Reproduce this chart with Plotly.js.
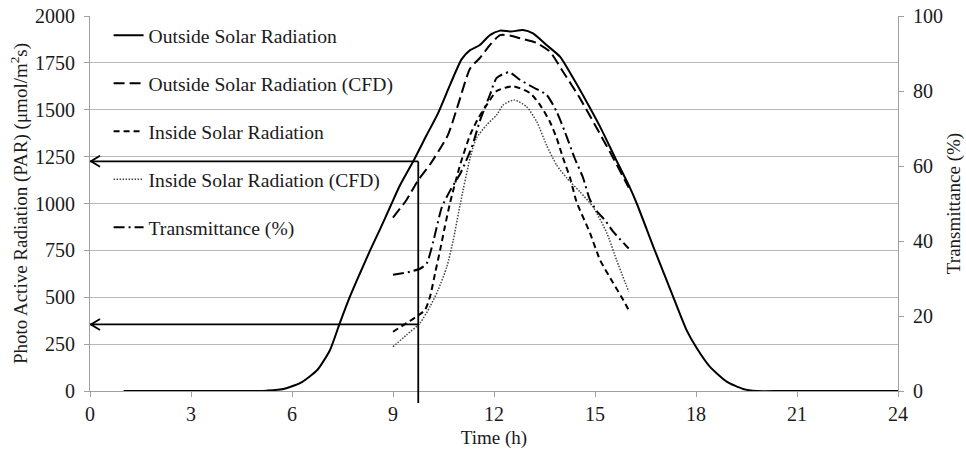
<!DOCTYPE html>
<html>
<head>
<meta charset="utf-8">
<script src="https://cdn.plot.ly/plotly-3.0.1.min.js"></script>
<style>html,body{margin:0;padding:0;background:#fff;}</style>
</head>
<body>
<div id="chart" style="width:966px;height:450px;"></div>
<script>
// Outside Solar Radiation (measured), time (h) and PAR
const outsideTime = [1,2,3,4,5,5.25,5.75,6.25,6.75,7.13,7.42,7.72,8.0,8.32,8.62,8.91,9.2,9.63,10.0,10.34,10.7,11.04,11.29,11.58,11.88,12.18,12.5,12.86,13.16,13.56,13.96,14.35,14.75,15.15,15.6,16.04,16.24,16.78,17.32,17.72,18.02,18.41,18.91,19.4,19.8,20.5,21,22,23,24];
const outsidePAR  = [0,0,0,0,0,2,11,43,112,219,362,503,620,750,865,980,1095,1235,1365,1482,1635,1770,1818,1845,1898,1922,1917,1925,1907,1845,1783,1669,1543,1410,1243,1083,1000,748,503,325,229,130,50,11,0,0,0,0,0,0];

// Outside Solar Radiation (CFD)
const outsideCfdTime = [9,9.4,9.75,10.1,10.63,10.93,11.29,11.58,11.9,12.18,12.5,12.77,13.27,13.66,14.05,14.55,15.05,15.54,16];
const outsideCfdPAR  = [925,1019,1125,1208,1365,1525,1720,1776,1850,1898,1895,1881,1856,1810,1703,1562,1403,1243,1085];

// Inside Solar Radiation
const insideTime = [9,9.4,9.7,9.95,10.1,10.25,10.4,10.54,10.69,11.0,11.3,11.55,11.8,12.08,12.57,13.07,13.37,13.66,13.86,14.05,14.26,14.45,14.85,15.15,15.54,15.84,16];
const insidePAR  = [316,362,397,432,503,628,752,876,1000,1210,1370,1460,1530,1600,1625,1589,1525,1436,1349,1243,1136,1010,843,699,576,485,432];

// Inside Solar Radiation (CFD)
const insideCfdTime = [9,9.4,9.8,10.1,10.34,10.6,10.79,11.0,11.29,11.48,11.78,12.08,12.27,12.6,12.97,13.27,13.56,13.86,14.16,14.55,14.95,15.35,15.64,16];
const insideCfdPAR  = [236,299,362,450,539,663,805,1000,1243,1349,1419,1472,1525,1552,1516,1436,1312,1205,1136,1063,980,843,699,530];

// Transmittance (%)
const transTime = [9,9.5,9.8,10.0,10.2,10.45,10.7,11.0,11.34,11.58,11.88,12.08,12.45,12.77,13.16,13.56,13.86,14.11,14.4,14.64,14.85,15.05,15.3,15.54,16];
const transPct  = [31,31.8,32.6,34,40,49,53.5,58,65,72,79,83.5,85,83,81,79,74.5,69,62,57,51,48,45.5,42.5,38];

// Guide arrows (annotation marks)
const guideTime = 9.75;
const guideLevels = [1225, 355];
const guideStub = -0.032;   // paper fraction below the x axis

const xRange = [0, 24];
const yRange = [0, 2000];
const y2Range = [0, 100];
const xTicks = [0,3,6,9,12,15,18,21,24];
const yTicks = [0,250,500,750,1000,1250,1500,1750,2000];
const y2Ticks = [0,20,40,60,80,100];

const FONT = 'Liberation Serif, Times New Roman, serif';
const INK = '#1a1a1a';

function tr(name, x, y, dash, width, color, axis) {
  return {
    type: 'scatter', mode: 'lines', name: name, x: x, y: y,
    yaxis: axis || 'y', legendgroup: name,
    line: {color: color, width: width, dash: dash, shape: 'spline', smoothing: 0.6},
    hoverinfo: 'skip'
  };
}

const data = [
  tr('Outside Solar Radiation', outsideTime, outsidePAR, 'solid', 2, '#000'),
  tr('Outside Solar Radiation (CFD)', outsideCfdTime, outsideCfdPAR, '11px,5px', 2, '#000'),
  tr('Inside Solar Radiation', insideTime, insidePAR, '6px,4px', 2, '#000'),
  tr('Inside Solar Radiation (CFD)', insideCfdTime, insideCfdPAR, '1.5px,1.5px', 1.5, '#444'),
  tr('Transmittance (%)', transTime, transPct, '11px,4px,2px,4px', 2, '#000', 'y2')
];

const guideLine = {color: '#000', width: 1.8};
const shapes = [];
guideLevels.forEach(function(lv){
  shapes.push({type: 'line', xref: 'x', yref: 'y', x0: xRange[0], x1: guideTime, y0: lv, y1: lv, line: guideLine, layer: 'above'});
  shapes.push({type: 'path', xref: 'x', yref: 'y', xsizemode: 'pixel', ysizemode: 'pixel',
    xanchor: xRange[0], yanchor: lv, path: 'M 10 5.5 L 1 0 L 10 -5.5', line: guideLine, layer: 'above'});
});
shapes.push({type: 'line', xref: 'paper', yref: 'paper',
  x0: (guideTime - xRange[0]) / (xRange[1] - xRange[0]), x1: (guideTime - xRange[0]) / (xRange[1] - xRange[0]),
  y0: guideStub, y1: (guideLevels[0] - yRange[0]) / (yRange[1] - yRange[0]), line: guideLine, layer: 'above'});

const axisCommon = {
  showline: true, linecolor: '#a0a0a0', linewidth: 1,
  ticks: 'outside', ticklen: 5, tickcolor: '#a0a0a0', tickwidth: 1,
  zeroline: false, tickfont: {family: FONT, size: 20, color: INK}
};

const layout = {
  width: 966, height: 450,
  margin: {l: 90, r: 68, t: 16, b: 59},
  paper_bgcolor: '#fff', plot_bgcolor: '#fff',
  font: {family: FONT, size: 19, color: INK},
  showlegend: true,
  legend: {
    x: 0.023, y: 1.0, xanchor: 'left', yanchor: 'top',
    bgcolor: 'rgba(0,0,0,0)', borderwidth: 0,
    traceorder: 'grouped', tracegroupgap: 19.5,
    font: {family: FONT, size: 19.6, color: INK}
  },
  hovermode: false,
  xaxis: Object.assign({}, axisCommon, {
    range: xRange, tickvals: xTicks, showgrid: false,
    title: {text: 'Time (h)', font: {family: FONT, size: 19, color: INK}, standoff: 6}
  }),
  yaxis: Object.assign({}, axisCommon, {
    range: yRange, tickvals: yTicks, showgrid: true, gridcolor: '#b8b8b8', gridwidth: 1,
    ticklabelstandoff: 5,
    title: {text: 'Photo Active Radiation (PAR) (μmol/m<sup>2</sup>s)', font: {family: FONT, size: 19, color: INK}, standoff: 2}
  }),
  yaxis2: Object.assign({}, axisCommon, {
    range: y2Range, tickvals: y2Ticks, overlaying: 'y', side: 'right', showgrid: false,
    ticklabelstandoff: 5,
    title: {text: 'Transmittance (%)', font: {family: FONT, size: 19, color: INK}, standoff: 4}
  }),
  shapes: shapes
};

Plotly.newPlot('chart', data, layout, {displayModeBar: false, staticPlot: true});
</script>
</body>
</html>
